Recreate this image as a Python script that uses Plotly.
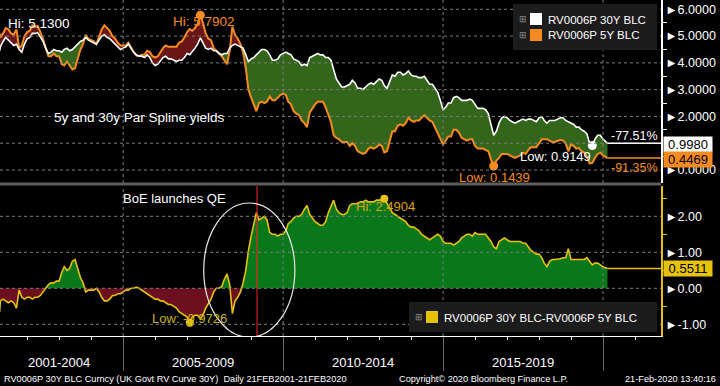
import plotly.graph_objects as go

# ---------------- data (monthly readings, Feb-2001 .. Feb-2020) ----------------
yield_30y = [
    # 2001 (Feb-Dec)
    4.45, 4.60, 4.80, 4.95, 4.85, 4.75, 4.65, 4.70, 4.50, 4.40, 4.70,
    # 2002
    4.90, 4.95, 5.10, 5.10, 5.13, 4.95, 4.80, 4.55, 4.35, 4.40, 4.50, 4.45,
    # 2003
    4.45, 4.40, 4.50, 4.55, 4.45, 4.50, 4.60, 4.70, 4.80, 4.85, 4.95, 4.85,
    # 2004
    4.80, 4.75, 4.70, 4.85, 5.00, 5.05, 4.95, 4.90, 4.80, 4.70, 4.60, 4.50,
    # 2005
    4.55, 4.60, 4.70, 4.55, 4.40, 4.30, 4.25, 4.25, 4.20, 4.30, 4.20, 4.00,
    # 2006
    3.90, 3.95, 4.05, 4.20, 4.25, 4.15, 4.15, 4.10, 4.05, 4.10, 4.10, 4.20,
    # 2007
    4.35, 4.30, 4.40, 4.55, 4.70, 4.93, 4.75, 4.55, 4.50, 4.55, 4.45, 4.45,
    # 2008
    4.35, 4.30, 4.35, 4.35, 4.55, 4.65, 4.70, 4.65, 4.60, 4.55, 4.30, 4.05,
    # 2009
    4.15, 4.20, 4.30, 4.40, 4.50, 4.50, 4.45, 4.30, 4.10, 4.10, 4.15, 4.30,
    # 2010
    4.35, 4.40, 4.35, 4.30, 4.15, 4.10, 4.05, 3.90, 3.95, 3.90, 4.20, 4.25,
    # 2011
    4.30, 4.35, 4.30, 4.30, 4.20, 4.20, 4.10, 3.75, 3.40, 3.25, 3.10, 3.10,
    # 2012
    3.15, 3.20, 3.35, 3.25, 3.05, 3.05, 3.00, 3.10, 3.20, 3.25, 3.20, 3.30,
    # 2013
    3.40, 3.35, 3.15, 3.05, 3.30, 3.55, 3.50, 3.65, 3.65, 3.55, 3.60, 3.70,
    # 2014
    3.55, 3.50, 3.50, 3.45, 3.45, 3.50, 3.35, 3.20, 3.20, 3.05, 2.90, 2.60,
    # 2015
    2.25, 2.35, 2.50, 2.50, 2.70, 2.75, 2.70, 2.60, 2.60, 2.60, 2.65, 2.60,
    # 2016
    2.45, 2.30, 2.30, 2.30, 2.25, 2.10, 1.70, 1.30, 1.45, 1.75, 1.95, 2.00,
    # 2017
    1.95, 1.85, 1.80, 1.75, 1.80, 1.85, 1.90, 1.85, 1.90, 1.90, 1.85, 1.80,
    # 2018
    1.95, 2.00, 1.85, 1.75, 1.85, 1.85, 1.85, 1.90, 1.95, 1.95, 1.85, 1.80,
    # 2019
    1.75, 1.70, 1.60, 1.60, 1.50, 1.45, 1.35, 1.00, 0.915, 1.15, 1.30, 1.30,
    # 2020 (Jan-Feb)
    1.15, 0.998,
]

spread_30y_5y = [
    # 2001 (Feb-Dec)
    -0.65, -0.35, -0.30, -0.35, -0.40, -0.35, -0.40, -0.55, -0.05, -0.25, -0.30,
    # 2002
    -0.25, -0.25, -0.30, -0.25, -0.25, -0.20, -0.10, 0.00, 0.10, 0.15, 0.15, 0.20,
    # 2003
    0.20, 0.45, 0.60, 0.50, 0.55, 0.75, 0.80, 0.55, 0.30, 0.15, -0.10, -0.05,
    # 2004
    -0.05, -0.05, 0.00, -0.10, -0.25, -0.35, -0.35, -0.30, -0.20, -0.20, -0.15, -0.15,
    # 2005
    -0.10, -0.05, -0.05, 0.00, 0.00, 0.03, 0.00, -0.05, -0.10, -0.15, -0.20, -0.25,
    # 2006
    -0.30, -0.30, -0.35, -0.35, -0.40, -0.45, -0.45, -0.50, -0.55, -0.65, -0.70, -0.75,
    # 2007
    -0.80, -0.96, -0.80, -0.75, -0.75, -0.85, -0.75, -0.55, -0.40, -0.30, -0.10, 0.00,
    # 2008
    0.00, 0.05, 0.25, 0.40, 0.10, -0.70, -0.35, -0.25, -0.10, 0.15, 0.50, 1.05,
    # 2009
    1.45, 1.75, 2.10, 1.90, 1.95, 2.00, 1.90, 1.55, 1.50, 1.50, 1.45, 1.50,
    # 2010
    1.50, 1.60, 1.80, 1.85, 1.95, 2.00, 2.00, 2.05, 2.20, 2.30, 2.05, 1.95,
    # 2011
    1.85, 1.80, 1.75, 1.75, 1.85, 2.10, 2.30, 2.45, 2.20, 2.10, 2.05, 2.05,
    # 2012
    2.10, 2.30, 2.35, 2.35, 2.35, 2.40, 2.40, 2.45, 2.40, 2.40, 2.40, 2.45,
    # 2013
    2.45, 2.45, 2.49, 2.35, 2.20, 2.10, 2.05, 2.00, 1.95, 1.90, 1.85, 1.75,
    # 2014
    1.70, 1.70, 1.65, 1.60, 1.50, 1.45, 1.40, 1.35, 1.40, 1.45, 1.50, 1.45,
    # 2015
    1.30, 1.25, 1.25, 1.25, 1.20, 1.25, 1.30, 1.40, 1.45, 1.50, 1.50, 1.45,
    # 2016
    1.55, 1.50, 1.50, 1.50, 1.50, 1.40, 1.30, 1.15, 1.10, 1.30, 1.35, 1.40,
    # 2017
    1.35, 1.30, 1.30, 1.30, 1.30, 1.30, 1.25, 1.25, 1.15, 1.05, 1.00, 0.95,
    # 2018
    0.95, 0.85, 0.70, 0.60, 0.75, 0.80, 0.80, 0.80, 0.82, 0.85, 0.85, 1.10,
    # 2019
    0.80, 0.80, 0.80, 0.78, 0.80, 0.80, 0.85, 0.75, 0.65, 0.70, 0.70, 0.65,
    # 2020 (Jan-Feb)
    0.60, 0.5511,
]

# the 5Y series is the 30Y minus the 30Y-5Y spread (as the lower panel defines it)
yield_5y = [round(a - b, 4) for a, b in zip(yield_30y, spread_30y_5y)]

dates = []
yy, mm = 2001, 2
for _ in range(len(yield_30y)):
    dates.append(f"{yy:04d}-{mm:02d}-01")
    mm += 1
    if mm > 12:
        mm, yy = 1, yy + 1
dates[0] = "2001-02-21"
dates[-1] = "2020-02-21"

top_ticks = [0, 2, 3, 4, 5, 6]
# the 1.0000 label sits under the last-value tag in the reference
top_ticktext = ["►0.0000", "►2.0000", "►3.0000", "►4.0000", "►5.0000", "►6.0000"]
top_grid = [0, 1, 2, 3, 4, 5, 6]
bot_ticks = [-1, 0, 1, 2]
bot_ticktext = ["►-1.00", "►0.00", "►1.00", "►2.00"]
period_labels = ["2001-2004", "2005-2009", "2010-2014", "2015-2019"]
period_mid = ["2003-01-01", "2007-07-02", "2012-07-02", "2017-07-02"]
period_edges = ["2005-01-01", "2010-01-01", "2015-01-01", "2020-01-01"]
year_ticks = [f"{y}-01-01" for y in range(2002, 2022)]
qe_date = "2009-03-09"

# ---------------- style ----------------
WHITE = "#ffffff"
ORANGE = "#f68b1f"
YELLOW = "#e6c20c"
GREEN_TOP = "#33661a"
RED_TOP = "#6b1616"
GREEN_BOT = "#08781a"
RED_BOT = "#6c1020"
GRID = "#7c7c7c"
FONT = "Liberation Sans, Arial, sans-serif"

W, H = 720, 386
PW, PH = 661, 336
X_RANGE = ["2001-02-25", "2021-10-24"]
TOP_RANGE = [-0.485, 6.347]
BOT_RANGE = [-1.325, 2.842]


def px(x):
    return x / PW


def py(y):
    return (PH - y) / PH


hi_top = [max(a, b) for a, b in zip(yield_30y, yield_5y)]
pos_s = [max(s, 0) for s in spread_30y_5y]
neg_s = [min(s, 0) for s in spread_30y_5y]

fig = go.Figure()
nolines = dict(width=0)
# top panel fills
fig.add_trace(go.Scatter(x=dates, y=yield_5y, mode="lines", line=nolines, xaxis="x2", yaxis="y2", hoverinfo="skip"))
fig.add_trace(go.Scatter(x=dates, y=hi_top, mode="lines", line=nolines, fill="tonexty", fillcolor=GREEN_TOP,
                         xaxis="x2", yaxis="y2", hoverinfo="skip"))
fig.add_trace(go.Scatter(x=dates, y=yield_30y, mode="lines", line=nolines, xaxis="x2", yaxis="y2", hoverinfo="skip"))
fig.add_trace(go.Scatter(x=dates, y=hi_top, mode="lines", line=nolines, fill="tonexty", fillcolor=RED_TOP,
                         xaxis="x2", yaxis="y2", hoverinfo="skip"))
# top panel lines
fig.add_trace(go.Scatter(x=dates, y=yield_5y, mode="lines", line=dict(color=ORANGE, width=2),
                         xaxis="x2", yaxis="y2", name="RV0006P 5Y BLC"))
fig.add_trace(go.Scatter(x=dates, y=yield_30y, mode="lines", line=dict(color=WHITE, width=1.6),
                         xaxis="x2", yaxis="y2", name="RV0006P 30Y BLC"))
# bottom panel fills + line
fig.add_trace(go.Scatter(x=dates, y=pos_s, mode="lines", line=nolines, fill="tozeroy", fillcolor=GREEN_BOT,
                         xaxis="x", yaxis="y", hoverinfo="skip"))
fig.add_trace(go.Scatter(x=dates, y=neg_s, mode="lines", line=nolines, fill="tozeroy", fillcolor=RED_BOT,
                         xaxis="x", yaxis="y", hoverinfo="skip"))
fig.add_trace(go.Scatter(x=dates, y=spread_30y_5y, mode="lines", line=dict(color=YELLOW, width=1.6),
                         xaxis="x", yaxis="y", name="RV0006P 30Y BLC-RV0006P 5Y BLC"))

# hi / low markers from the data
i5hi = max(range(len(yield_5y)), key=lambda i: yield_5y[i])
i5lo = min(range(len(yield_5y)), key=lambda i: yield_5y[i])
i30lo = min(range(len(yield_30y)), key=lambda i: yield_30y[i])
ishi = max(range(len(spread_30y_5y)), key=lambda i: spread_30y_5y[i])
islo = min(range(len(spread_30y_5y)), key=lambda i: spread_30y_5y[i])
fig.add_trace(go.Scatter(x=[dates[i5hi], dates[i5lo]], y=[yield_5y[i5hi], yield_5y[i5lo]], mode="markers",
                         marker=dict(color=ORANGE, size=9), xaxis="x2", yaxis="y2"))
fig.add_trace(go.Scatter(x=[dates[i30lo]], y=[yield_30y[i30lo]], mode="markers",
                         marker=dict(color=WHITE, size=9), xaxis="x2", yaxis="y2"))
fig.add_trace(go.Scatter(x=[dates[ishi], dates[islo]], y=[spread_30y_5y[ishi], spread_30y_5y[islo]], mode="markers",
                         marker=dict(color=YELLOW, size=8), xaxis="x", yaxis="y"))

shapes = []
# dashed grid drawn over the fills
for v in top_grid:
    shapes.append(dict(type="line", xref="paper", yref="y2", x0=0, x1=1, y0=v, y1=v,
                       line=dict(color=GRID, width=1, dash="3px,3px"), layer="above"))
for v in bot_ticks:
    shapes.append(dict(type="line", xref="paper", yref="y", x0=0, x1=1, y0=v, y1=v,
                       line=dict(color=GRID, width=1, dash="3px,3px"), layer="above"))
for d in period_edges:
    for yr in ("y2 domain", "y domain"):
        shapes.append(dict(type="line", xref="x", yref=yr, x0=d, x1=d, y0=0, y1=1,
                           line=dict(color=GRID, width=1, dash="3px,3px"), layer="above"))
# panel separator
shapes.append(dict(type="rect", xref="paper", yref="paper", x0=0, x1=1, y0=py(185.5), y1=py(182.5),
                   fillcolor="#5e5e5e", line=dict(width=0), layer="above"))
# last-value guide lines
shapes.append(dict(type="line", xref="x2", yref="y2", x0=dates[-1], x1=X_RANGE[1],
                   y0=yield_30y[-1], y1=yield_30y[-1], line=dict(color=WHITE, width=1.5)))
shapes.append(dict(type="line", xref="x2", yref="y2", x0=dates[-1], x1=X_RANGE[1],
                   y0=yield_5y[-1], y1=yield_5y[-1], line=dict(color=ORANGE, width=1.5)))
shapes.append(dict(type="line", xref="x", yref="y", x0=dates[-1], x1=X_RANGE[1],
                   y0=spread_30y_5y[-1], y1=spread_30y_5y[-1], line=dict(color=YELLOW, width=1.5)))
# QE marker and ellipse
shapes.append(dict(type="line", xref="x", yref="y domain", x0=qe_date, x1=qe_date, y0=0, y1=1,
                   line=dict(color="#ff2020", width=1), layer="above"))
shapes.append(dict(type="circle", xref="x", yref="y", x0="2007-07-10", x1="2010-05-15", y0=-1.36, y1=2.37,
                   line=dict(color="#e8e8e8", width=1.2), layer="above"))
# legend boxes
shapes.append(dict(type="rect", xref="paper", yref="paper", x0=px(513), x1=px(657), y0=py(50), y1=py(4),
                   fillcolor="#1c1c1c", line=dict(width=0), layer="above"))
shapes.append(dict(type="rect", xref="paper", yref="paper", x0=px(530), x1=px(542), y0=py(25), y1=py(13),
                   fillcolor=WHITE, line=dict(width=0), layer="above"))
shapes.append(dict(type="rect", xref="paper", yref="paper", x0=px(530), x1=px(542), y0=py(41), y1=py(29),
                   fillcolor=ORANGE, line=dict(width=0), layer="above"))
shapes.append(dict(type="rect", xref="paper", yref="paper", x0=px(409), x1=px(657), y0=py(332), y1=py(302),
                   fillcolor="#1c1c1c", line=dict(width=0), layer="above"))
shapes.append(dict(type="rect", xref="paper", yref="paper", x0=px(426), x1=px(438), y0=py(323), y1=py(311),
                   fillcolor=YELLOW, line=dict(width=0), layer="above"))


def txt(x, y, text, color=WHITE, size=13, xanchor="center", **kw):
    d = dict(xref="paper", yref="paper", x=px(x), y=py(y), text=text, showarrow=False,
             font=dict(family=FONT, size=size, color=color), xanchor=xanchor, yanchor="middle")
    d.update(kw)
    return d


ann = [
    txt(39, 24, "Hi: 5.1300", WHITE, 13.5),
    txt(204, 22, "Hi: 5.7902", ORANGE, 13.5),
    txt(139, 118, "5y and 30y Par Spline yields", WHITE, 13.5),
    txt(555, 156, "Low: 0.9149", WHITE, 13),
    txt(494, 177, "Low: 0.1439", ORANGE, 13),
    txt(660, 136, "-77.51%", WHITE, 12.5, xanchor="right"),
    txt(660, 168, "-91.35%", ORANGE, 12.5, xanchor="right"),
    txt(175, 198, "BoE launches QE", WHITE, 13),
    txt(385, 206, "Hi: 2.4904", "#d9a416", 13),
    txt(189, 318, "Low: -0.9726", "#c4b418", 13),
    # legends
    txt(523, 19, "⊞", "#8a8a8a", 9),
    txt(523, 35, "⊞", "#8a8a8a", 9),
    txt(546, 19.5, "RV0006P 30Y BLC", WHITE, 11.5, xanchor="left"),
    txt(546, 35.5, "RV0006P 5Y BLC", WHITE, 11.5, xanchor="left"),
    txt(419, 317, "⊞", "#8a8a8a", 9),
    txt(442, 317.5, "RV0006P 30Y BLC-RV0006P 5Y BLC", WHITE, 11.5, xanchor="left"),
    # last-value tags
    txt(663, 144, "0.9980", "#000000", 13, xanchor="left", bgcolor=WHITE, width=48, borderpad=0),
    txt(663, 159.5, "0.4469", "#000000", 13, xanchor="left", bgcolor=ORANGE, width=48, borderpad=0),
    txt(663, 268.5, "0.5511", "#000000", 13, xanchor="left", bgcolor=YELLOW, width=48, borderpad=0),
    # footer
    txt(2, 379, "RV0006P 30Y BLC Curncy (UK Govt RV Curve 30Y)  Daily 21FEB2001-21FEB2020", WHITE, 9.2,
        xanchor="left"),
    txt(483, 379, "Copyright© 2020 Bloomberg Finance L.P.", WHITE, 9.2),
    txt(718, 379, "21-Feb-2020 13:40:16", WHITE, 9.2, xanchor="right"),
]
for lab, mid in zip(period_labels, period_mid):
    ann.append(dict(xref="x", yref="paper", x=mid, y=py(362), text=lab, showarrow=False,
                    font=dict(family=FONT, size=13, color=WHITE), xanchor="center", yanchor="middle"))

fig.update_layout(
    width=W, height=H,
    margin=dict(l=0, r=W - PW, t=0, b=H - PH, pad=0),
    paper_bgcolor="#000000", plot_bgcolor="#000000",
    showlegend=False,
    font=dict(family=FONT, color=WHITE),
    shapes=shapes, annotations=ann,
    xaxis=dict(domain=[0, 1], anchor="y", type="date", range=X_RANGE, showgrid=False, zeroline=False,
               showline=True, linecolor=WHITE, linewidth=1,
               tickmode="array", tickvals=period_edges, ticks="outside", ticklen=34, tickcolor="#6a6a6a",
               tickwidth=1, showticklabels=False,
               minor=dict(tickmode="array", tickvals=year_ticks, ticks="outside", ticklen=3,
                          tickcolor=WHITE, showgrid=False)),
    xaxis2=dict(domain=[0, 1], anchor="y2", matches="x", type="date", range=X_RANGE, showgrid=False,
                zeroline=False, showline=False, showticklabels=False, ticks=""),
    yaxis=dict(domain=[0, py(186)], anchor="x", side="right", range=BOT_RANGE, showgrid=False,
               zeroline=False, showline=True, linecolor=YELLOW, linewidth=1.5,
               tickmode="array", tickvals=bot_ticks, ticktext=bot_ticktext, ticks="",
               tickfont=dict(family=FONT, size=12.5, color=WHITE),
               minor=dict(tickmode="array", tickvals=[-1.5, -0.5, 0.5, 1.5, 2.5], ticks="outside",
                          ticklen=4, tickcolor=YELLOW, showgrid=False)),
    yaxis2=dict(domain=[py(183), 1], anchor="x2", side="right", range=TOP_RANGE, showgrid=False,
                zeroline=False, showline=True, linecolor=WHITE, linewidth=1.5,
                tickmode="array", tickvals=top_ticks, ticktext=top_ticktext, ticks="",
                tickfont=dict(family=FONT, size=12.5, color=WHITE),
                minor=dict(tickmode="array", tickvals=[0.5, 1.5, 2.5, 3.5, 4.5, 5.5], ticks="outside",
                           ticklen=4, tickcolor=WHITE, showgrid=False)),
)

fig.write_html("out.html", config={"displayModeBar": False},
               post_script="document.body.style.margin='0';document.body.style.overflow='hidden';")
